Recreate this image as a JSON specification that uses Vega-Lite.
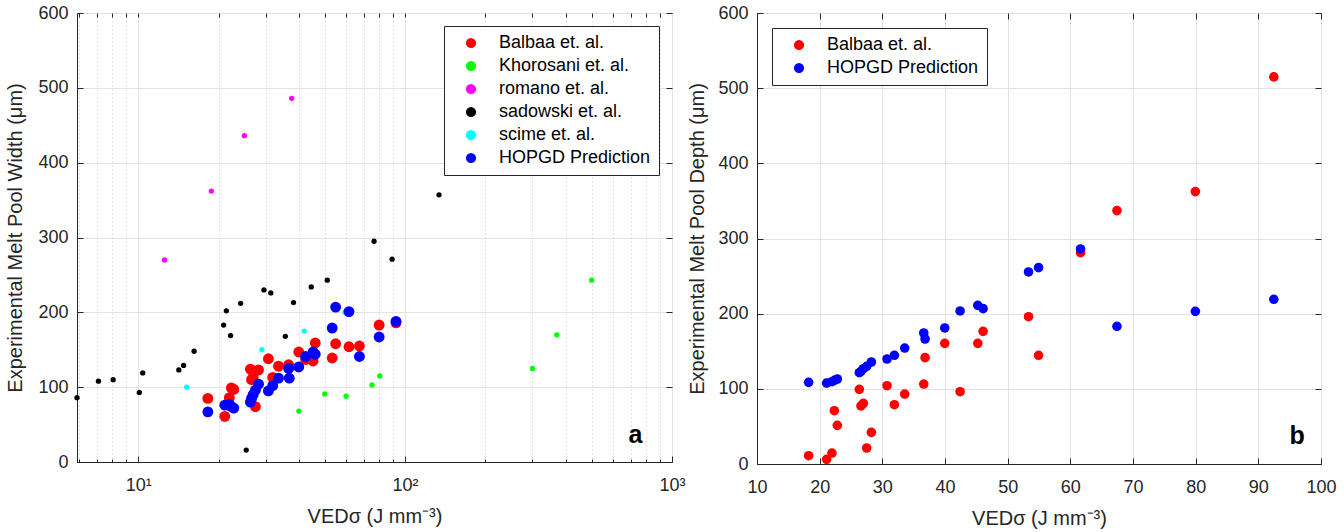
{
  "$schema": "https://vega.github.io/schema/vega-lite/v6.json",
  "padding": {"left": 5, "top": 3, "right": 5, "bottom": 5},
  "spacing": 1,
  "datasets": {
    "width": [
      {"ved": 5.9, "w": 86, "s": "sadowski et. al."},
      {"ved": 7.1, "w": 108, "s": "sadowski et. al."},
      {"ved": 8.06, "w": 110, "s": "sadowski et. al."},
      {"ved": 10.1, "w": 93, "s": "sadowski et. al."},
      {"ved": 10.4, "w": 119, "s": "sadowski et. al."},
      {"ved": 14.2, "w": 123, "s": "sadowski et. al."},
      {"ved": 14.8, "w": 129, "s": "sadowski et. al."},
      {"ved": 16.2, "w": 148, "s": "sadowski et. al."},
      {"ved": 20.9, "w": 183, "s": "sadowski et. al."},
      {"ved": 21.4, "w": 202, "s": "sadowski et. al."},
      {"ved": 22.2, "w": 169, "s": "sadowski et. al."},
      {"ved": 24.2, "w": 212, "s": "sadowski et. al."},
      {"ved": 25.4, "w": 16, "s": "sadowski et. al."},
      {"ved": 29.6, "w": 230, "s": "sadowski et. al."},
      {"ved": 31.4, "w": 226, "s": "sadowski et. al."},
      {"ved": 35.6, "w": 168, "s": "sadowski et. al."},
      {"ved": 38.2, "w": 213, "s": "sadowski et. al."},
      {"ved": 44.5, "w": 234, "s": "sadowski et. al."},
      {"ved": 51.1, "w": 243, "s": "sadowski et. al."},
      {"ved": 76.5, "w": 295, "s": "sadowski et. al."},
      {"ved": 89.4, "w": 271, "s": "sadowski et. al."},
      {"ved": 134, "w": 357, "s": "sadowski et. al."},
      {"ved": 12.55, "w": 270, "s": "romano et. al."},
      {"ved": 18.8, "w": 362, "s": "romano et. al."},
      {"ved": 25.0, "w": 436, "s": "romano et. al."},
      {"ved": 37.6, "w": 486, "s": "romano et. al."},
      {"ved": 15.2, "w": 100, "s": "scime et. al."},
      {"ved": 29.1, "w": 150, "s": "scime et. al."},
      {"ved": 41.9, "w": 175, "s": "scime et. al."},
      {"ved": 59.5, "w": 200, "s": "scime et. al."},
      {"ved": 40.0, "w": 68, "s": "Khorosani et. al."},
      {"ved": 50.0, "w": 91, "s": "Khorosani et. al."},
      {"ved": 60.1, "w": 88, "s": "Khorosani et. al."},
      {"ved": 75.2, "w": 103, "s": "Khorosani et. al."},
      {"ved": 80.4, "w": 115, "s": "Khorosani et. al."},
      {"ved": 300, "w": 125, "s": "Khorosani et. al."},
      {"ved": 370, "w": 170, "s": "Khorosani et. al."},
      {"ved": 500, "w": 243, "s": "Khorosani et. al."},
      {"ved": 18.24, "w": 85, "s": "Balbaa et. al."},
      {"ved": 21.11, "w": 61, "s": "Balbaa et. al."},
      {"ved": 21.96, "w": 86, "s": "Balbaa et. al."},
      {"ved": 22.34, "w": 99, "s": "Balbaa et. al."},
      {"ved": 22.82, "w": 97, "s": "Balbaa et. al."},
      {"ved": 26.33, "w": 124, "s": "Balbaa et. al."},
      {"ved": 26.59, "w": 110, "s": "Balbaa et. al."},
      {"ved": 26.97, "w": 113, "s": "Balbaa et. al."},
      {"ved": 27.5, "w": 74, "s": "Balbaa et. al."},
      {"ved": 28.25, "w": 123, "s": "Balbaa et. al."},
      {"ved": 30.75, "w": 138, "s": "Balbaa et. al."},
      {"ved": 31.92, "w": 113, "s": "Balbaa et. al."},
      {"ved": 33.57, "w": 128, "s": "Balbaa et. al."},
      {"ved": 36.61, "w": 130, "s": "Balbaa et. al."},
      {"ved": 36.82, "w": 127, "s": "Balbaa et. al."},
      {"ved": 39.96, "w": 147, "s": "Balbaa et. al."},
      {"ved": 42.41, "w": 137, "s": "Balbaa et. al."},
      {"ved": 45.23, "w": 135, "s": "Balbaa et. al."},
      {"ved": 46.08, "w": 159, "s": "Balbaa et. al."},
      {"ved": 53.33, "w": 139, "s": "Balbaa et. al."},
      {"ved": 54.93, "w": 158, "s": "Balbaa et. al."},
      {"ved": 61.63, "w": 154, "s": "Balbaa et. al."},
      {"ved": 67.44, "w": 155, "s": "Balbaa et. al."},
      {"ved": 79.95, "w": 183, "s": "Balbaa et. al."},
      {"ved": 92.47, "w": 186, "s": "Balbaa et. al."},
      {"ved": 18.24, "w": 67, "s": "HOPGD Prediction"},
      {"ved": 21.11, "w": 76, "s": "HOPGD Prediction"},
      {"ved": 21.96, "w": 77, "s": "HOPGD Prediction"},
      {"ved": 22.34, "w": 74, "s": "HOPGD Prediction"},
      {"ved": 22.82, "w": 72, "s": "HOPGD Prediction"},
      {"ved": 26.33, "w": 80, "s": "HOPGD Prediction"},
      {"ved": 26.59, "w": 85, "s": "HOPGD Prediction"},
      {"ved": 26.97, "w": 90, "s": "HOPGD Prediction"},
      {"ved": 27.5, "w": 96, "s": "HOPGD Prediction"},
      {"ved": 28.25, "w": 104, "s": "HOPGD Prediction"},
      {"ved": 30.75, "w": 95, "s": "HOPGD Prediction"},
      {"ved": 31.92, "w": 102, "s": "HOPGD Prediction"},
      {"ved": 33.57, "w": 112, "s": "HOPGD Prediction"},
      {"ved": 36.61, "w": 125, "s": "HOPGD Prediction"},
      {"ved": 36.82, "w": 112, "s": "HOPGD Prediction"},
      {"ved": 39.96, "w": 127, "s": "HOPGD Prediction"},
      {"ved": 42.41, "w": 141, "s": "HOPGD Prediction"},
      {"ved": 45.23, "w": 147, "s": "HOPGD Prediction"},
      {"ved": 46.08, "w": 144, "s": "HOPGD Prediction"},
      {"ved": 53.33, "w": 179, "s": "HOPGD Prediction"},
      {"ved": 54.93, "w": 207, "s": "HOPGD Prediction"},
      {"ved": 61.63, "w": 201, "s": "HOPGD Prediction"},
      {"ved": 67.44, "w": 141, "s": "HOPGD Prediction"},
      {"ved": 79.95, "w": 167, "s": "HOPGD Prediction"},
      {"ved": 92.47, "w": 188, "s": "HOPGD Prediction"}
    ],
    "depth": [
      {"ved": 18.24, "d": 11.0, "s": "Balbaa et. al."},
      {"ved": 21.11, "d": 6.2, "s": "Balbaa et. al."},
      {"ved": 21.96, "d": 14.6, "s": "Balbaa et. al."},
      {"ved": 22.34, "d": 70.9, "s": "Balbaa et. al."},
      {"ved": 22.82, "d": 51.4, "s": "Balbaa et. al."},
      {"ved": 26.33, "d": 99.3, "s": "Balbaa et. al."},
      {"ved": 26.59, "d": 77.2, "s": "Balbaa et. al."},
      {"ved": 26.97, "d": 80.7, "s": "Balbaa et. al."},
      {"ved": 27.5, "d": 21.3, "s": "Balbaa et. al."},
      {"ved": 28.25, "d": 42.1, "s": "Balbaa et. al."},
      {"ved": 30.75, "d": 104.2, "s": "Balbaa et. al."},
      {"ved": 31.92, "d": 78.9, "s": "Balbaa et. al."},
      {"ved": 33.57, "d": 93.1, "s": "Balbaa et. al."},
      {"ved": 36.61, "d": 106.4, "s": "Balbaa et. al."},
      {"ved": 36.82, "d": 141.5, "s": "Balbaa et. al."},
      {"ved": 39.96, "d": 160.5, "s": "Balbaa et. al."},
      {"ved": 42.41, "d": 96.2, "s": "Balbaa et. al."},
      {"ved": 45.23, "d": 160.5, "s": "Balbaa et. al."},
      {"ved": 46.08, "d": 176.5, "s": "Balbaa et. al."},
      {"ved": 53.33, "d": 196.0, "s": "Balbaa et. al."},
      {"ved": 54.93, "d": 144.6, "s": "Balbaa et. al."},
      {"ved": 61.63, "d": 281.2, "s": "Balbaa et. al."},
      {"ved": 67.44, "d": 337.1, "s": "Balbaa et. al."},
      {"ved": 79.95, "d": 362.4, "s": "Balbaa et. al."},
      {"ved": 92.47, "d": 515.0, "s": "Balbaa et. al."},
      {"ved": 18.24, "d": 108.6, "s": "HOPGD Prediction"},
      {"ved": 21.11, "d": 107.6, "s": "HOPGD Prediction"},
      {"ved": 21.96, "d": 109.5, "s": "HOPGD Prediction"},
      {"ved": 22.34, "d": 111.2, "s": "HOPGD Prediction"},
      {"ved": 22.82, "d": 113.1, "s": "HOPGD Prediction"},
      {"ved": 26.33, "d": 121.5, "s": "HOPGD Prediction"},
      {"ved": 26.59, "d": 123.3, "s": "HOPGD Prediction"},
      {"ved": 26.97, "d": 126.8, "s": "HOPGD Prediction"},
      {"ved": 27.5, "d": 129.9, "s": "HOPGD Prediction"},
      {"ved": 28.25, "d": 135.7, "s": "HOPGD Prediction"},
      {"ved": 30.75, "d": 139.7, "s": "HOPGD Prediction"},
      {"ved": 31.92, "d": 144.6, "s": "HOPGD Prediction"},
      {"ved": 33.57, "d": 154.3, "s": "HOPGD Prediction"},
      {"ved": 36.61, "d": 174.3, "s": "HOPGD Prediction"},
      {"ved": 36.82, "d": 166.3, "s": "HOPGD Prediction"},
      {"ved": 39.96, "d": 181.0, "s": "HOPGD Prediction"},
      {"ved": 42.41, "d": 203.6, "s": "HOPGD Prediction"},
      {"ved": 45.23, "d": 211.1, "s": "HOPGD Prediction"},
      {"ved": 46.08, "d": 206.7, "s": "HOPGD Prediction"},
      {"ved": 53.33, "d": 255.5, "s": "HOPGD Prediction"},
      {"ved": 54.93, "d": 261.2, "s": "HOPGD Prediction"},
      {"ved": 61.63, "d": 286.1, "s": "HOPGD Prediction"},
      {"ved": 67.44, "d": 183.2, "s": "HOPGD Prediction"},
      {"ved": 79.95, "d": 203.1, "s": "HOPGD Prediction"},
      {"ved": 92.47, "d": 219.1, "s": "HOPGD Prediction"}
    ]
  },
  "hconcat": [
    {
      "width": 595,
      "height": 449,
      "resolve": {"axis": {"x": "independent", "y": "independent"}},
      "layer": [
        {
          "data": {"name": "width"},
          "transform": [{"filter": "datum.s !== 'Balbaa et. al.' && datum.s !== 'HOPGD Prediction'"}],
          "mark": {"type": "point", "filled": true, "opacity": 1, "size": 28, "shape": "circle"},
          "encoding": {
            "x": {"field": "ved", "type": "quantitative", "scale": {"type": "log", "domain": [5.9, 1000], "nice": false},
              "axis": {"orient": "bottom", "values": [10, 100, 1000], "labelExpr": "datum.value == 10 ? '10¹' : datum.value == 100 ? '10²' : '10³'", "grid": true, "gridColor": "#e3e3e3", "tickSize": -6, "labelPadding": 20, "labelFlush": false, "labelOverlap": false, "title": "VEDσ (J mm⁻³)", "titlePadding": 12}},
            "y": {"field": "w", "type": "quantitative", "scale": {"domain": [0, 600], "nice": false},
              "axis": {"orient": "left", "values": [0, 100, 200, 300, 400, 500, 600], "grid": true, "gridColor": "#e3e3e3", "tickSize": -6, "labelPadding": 15, "labelFlush": false, "title": "Experimental Melt Pool Width (μm)", "titlePadding": 12}},
            "color": {"field": "s", "type": "nominal",
              "scale": {"domain": ["Balbaa et. al.", "Khorosani et. al.", "romano et. al.", "sadowski et. al.", "scime et. al.", "HOPGD Prediction"], "range": ["#ff0000", "#00ff00", "#ff00ff", "#000000", "#00ffff", "#0000ff"]},
              "legend": {"orient": "top-right", "offset": 13}}
          }
        },
        {
          "data": {"name": "width"},
          "transform": [{"filter": "datum.s === 'Balbaa et. al.' || datum.s === 'HOPGD Prediction'"}],
          "mark": {"type": "point", "filled": true, "opacity": 1, "size": 118, "shape": "circle"},
          "encoding": {
            "x": {"field": "ved", "type": "quantitative", "scale": {"type": "log", "domain": [5.9, 1000], "nice": false},
              "axis": {"orient": "top", "values": [6, 7, 8, 9, 10, 20, 30, 40, 50, 60, 70, 80, 90, 100, 200, 300, 400, 500, 600, 700, 800, 900], "labels": false, "grid": false, "domain": false, "tickSize": -4, "title": null}},
            "y": {"field": "w", "type": "quantitative", "scale": {"domain": [0, 600], "nice": false},
              "axis": {"orient": "right", "values": [0, 100, 200, 300, 400, 500, 600], "labels": false, "grid": false, "domain": false, "tickSize": -6, "title": null}},
            "color": {"field": "s", "type": "nominal"}
          }
        },
        {
          "data": {"values": [{"label": "a"}]},
          "mark": {"type": "text", "fontSize": 25, "fontWeight": "bold", "color": "#000000", "align": "center", "baseline": "middle"},
          "encoding": {
            "text": {"field": "label"},
            "x": {"datum": 730, "type": "quantitative", "scale": {"type": "log", "domain": [5.9, 1000], "nice": false},
              "axis": {"orient": "bottom", "values": [6, 7, 8, 9, 20, 30, 40, 50, 60, 70, 80, 90, 200, 300, 400, 500, 600, 700, 800, 900], "labels": false, "grid": true, "gridDash": [1, 3], "gridColor": "#c8c8c8", "domain": false, "tickSize": -3, "title": null}},
            "y": {"datum": 36, "type": "quantitative", "scale": {"domain": [0, 600], "nice": false}, "axis": null}
          }
        }
      ]
    },
    {
      "width": 564,
      "height": 451,
      "resolve": {"axis": {"x": "independent", "y": "independent"}},
      "layer": [
        {
          "data": {"name": "depth"},
          "mark": {"type": "point", "filled": true, "opacity": 1, "size": 92, "shape": "circle"},
          "encoding": {
            "x": {"field": "ved", "type": "quantitative", "scale": {"domain": [10, 100], "nice": false},
              "axis": {"orient": "bottom", "values": [10, 20, 30, 40, 50, 60, 70, 80, 90, 100], "grid": true, "gridColor": "#e3e3e3", "tickSize": -6, "labelPadding": 20, "labelFlush": false, "labelOverlap": false, "title": "VEDσ (J mm⁻³)", "titlePadding": 12}},
            "y": {"field": "d", "type": "quantitative", "scale": {"domain": [0, 600], "nice": false},
              "axis": {"orient": "left", "values": [0, 100, 200, 300, 400, 500, 600], "grid": true, "gridColor": "#e3e3e3", "tickSize": -6, "labelPadding": 15, "labelFlush": false, "title": "Experimental Melt Pool Depth (μm)", "titlePadding": 10}},
            "color": {"field": "s", "type": "nominal",
              "scale": {"domain": ["Balbaa et. al.", "HOPGD Prediction"], "range": ["#ff0000", "#0000ff"]},
              "legend": {"orient": "top-left", "offset": 15}}
          }
        },
        {
          "data": {"values": [{"label": "b"}]},
          "mark": {"type": "text", "fontSize": 25, "fontWeight": "bold", "color": "#000000", "align": "center", "baseline": "middle"},
          "encoding": {
            "text": {"field": "label"},
            "x": {"datum": 96.2, "type": "quantitative", "scale": {"domain": [10, 100], "nice": false},
              "axis": {"orient": "top", "values": [10, 20, 30, 40, 50, 60, 70, 80, 90, 100], "labels": false, "grid": false, "domain": false, "tickSize": -6, "title": null}},
            "y": {"datum": 37.7, "type": "quantitative", "scale": {"domain": [0, 600], "nice": false},
              "axis": {"orient": "right", "values": [0, 100, 200, 300, 400, 500, 600], "labels": false, "grid": false, "domain": false, "tickSize": -6, "title": null}}
          }
        }
      ]
    }
  ],
  "resolve": {"scale": {"color": "independent"}, "legend": {"color": "independent"}},
  "config": {
    "font": "Liberation Sans",
    "view": {"stroke": "#262626", "strokeWidth": 1},
    "axis": {
      "labelFont": "Liberation Sans", "labelFontSize": 18, "labelColor": "#262626",
      "titleFont": "Liberation Sans", "titleFontSize": 20, "titleFontWeight": "normal", "titleColor": "#262626",
      "domainColor": "#262626", "tickColor": "#262626", "domainWidth": 1, "tickWidth": 1
    },
    "legend": {
      "title": null, "strokeColor": "#262626", "fillColor": "#ffffff", "padding": 8,
      "labelFont": "Liberation Sans", "labelFontSize": 18, "labelColor": "#000000",
      "symbolType": "circle", "symbolSize": 105, "symbolStrokeWidth": 0,
      "rowPadding": 5, "labelOffset": 19, "symbolOffset": 10
    }
  }
}
